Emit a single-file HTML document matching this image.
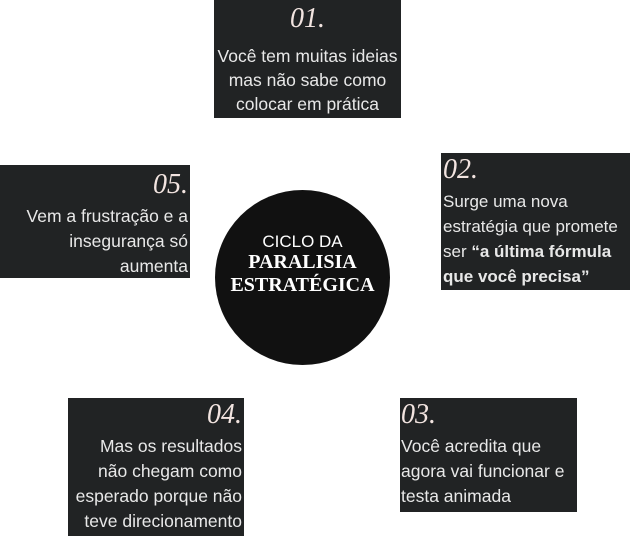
<!DOCTYPE html>
<html><head><meta charset="utf-8"><style>
body{margin:0;width:630px;height:536px;background:#fff;position:relative;overflow:hidden;font-family:"Liberation Sans",sans-serif}
.b{position:absolute;background:#212324;color:#e8e8e8;font-size:17.5px;line-height:25px;box-sizing:border-box;white-space:nowrap}
.n{font-family:"Liberation Serif",serif;font-style:italic;font-size:28px;line-height:30px;color:#f2e4e0;display:block}
.t{margin-top:4px}
.r{text-align:right}.c{text-align:center}
.circ{position:absolute;left:215px;top:190px;width:175px;height:175px;border-radius:50%;background:#111;color:#fff;text-align:center}
</style></head><body>
<div class="b c" style="left:214px;top:0;width:187px;height:118px;padding-top:4px;line-height:24px"><span class="n">01.</span><div style="margin-top:10px">Você tem muitas ideias<br>mas não sabe como<br>colocar em prática</div></div>
<div class="b" style="left:441px;top:153px;width:189px;height:137px;padding-top:2px;padding-left:2px;overflow:hidden"><span class="n">02.</span><div class="t" style="font-size:17px">Surge uma nova<br>estratégia que promete<br>ser <b>“a última fórmula<br>que você precisa”</b></div></div>
<div class="b r" style="left:0;top:165px;width:190px;height:113px;padding-top:5px;padding-right:2px"><span class="n">05.</span><div class="t">Vem a frustração e a<br>insegurança só<br>aumenta</div></div>
<div class="b r" style="left:68px;top:398px;width:176px;height:138px;padding-top:2px;padding-right:2px"><span class="n">04.</span><div class="t">Mas os resultados<br>não chegam como<br>esperado porque não<br>teve direcionamento</div></div>
<div class="b" style="left:400px;top:398px;width:177px;height:114px;padding-top:2px;padding-left:1px"><span class="n">03.</span><div class="t">Você acredita que<br>agora vai funcionar e<br>testa animada</div></div>
<div class="circ"><div style="margin-top:42px;font-size:17px;line-height:19px">CICLO DA</div><div style="font-family:'Liberation Serif',serif;font-weight:bold;font-size:20px;line-height:23px">PARALISIA<br>ESTRATÉGICA</div></div>
</body></html>
